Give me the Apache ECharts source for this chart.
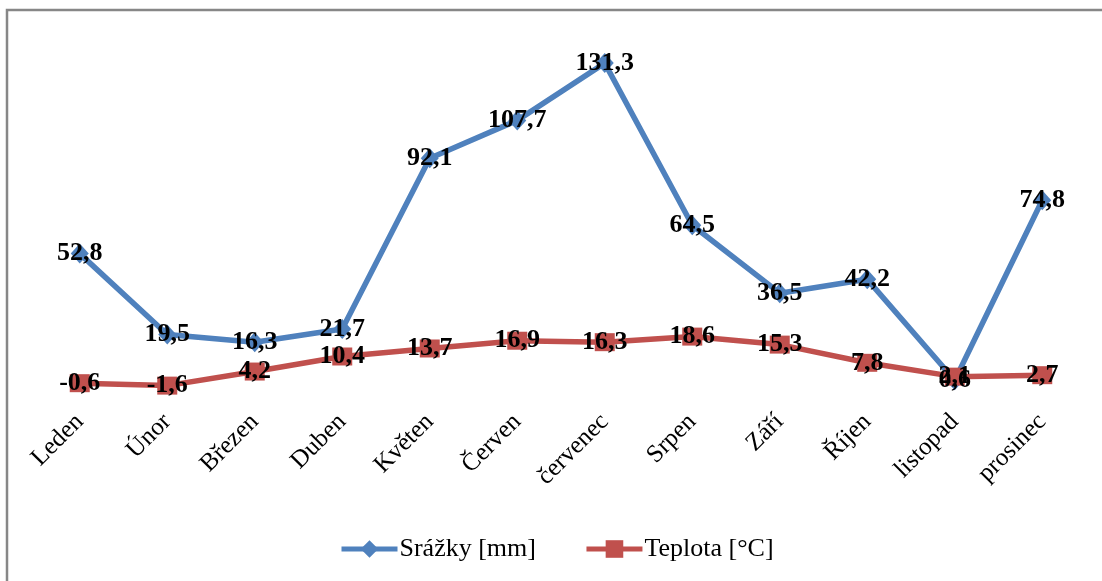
<!DOCTYPE html>
<html>
<head>
<meta charset="utf-8">
<script src="https://cdn.jsdelivr.net/npm/echarts@6/dist/echarts.min.js"></script>
<style>
  html, body { margin: 0; padding: 0; background: #fff; }
  #chart { width: 1102px; height: 581px; }
</style>
</head>
<body>
<div id="chart"></div>
<script>
// Monthly precipitation and mean temperature
const months = ['Leden', 'Únor', 'Březen', 'Duben', 'Květen', 'Červen',
  'červenec', 'Srpen', 'Září', 'Říjen', 'listopad', 'prosinec'];
const srazky = [52.8, 19.5, 16.3, 21.7, 92.1, 107.7, 131.3, 64.5, 36.5, 42.2, 0.6, 74.8];
const teplota = [-0.6, -1.6, 4.2, 10.4, 13.7, 16.9, 16.3, 18.6, 15.3, 7.8, 2.1, 2.7];

const serif = "'Liberation Serif', 'Times New Roman', serif";
const fmt = p => String(p.value).replace('.', ',');

const chart = echarts.init(document.getElementById('chart'));
chart.setOption({
  animation: false,
  backgroundColor: '#fff',
  graphic: [{
    type: 'rect',
    shape: { x: 7, y: 10, width: 1120, height: 600 },
    style: { fill: 'none', stroke: '#878787', lineWidth: 2.5 },
    silent: true
  }],
  grid: { left: 36, right: 16, top: 42, bottom: 175 },
  legend: {
    left: 334,
    top: 531,
    itemWidth: 56,
    itemHeight: 22,
    itemGap: 48,
    textStyle: { fontFamily: serif, fontSize: 26, color: '#000', padding: [0, 0, 0, -3] },
    data: [
      { name: 'Srážky [mm]', lineStyle: { width: 5 } },
      { name: 'Teplota [°C]', lineStyle: { width: 5 } }
    ]
  },
  xAxis: {
    type: 'category',
    data: months,
    axisLine: { show: false },
    axisTick: { show: false },
    axisLabel: { rotate: 45, margin: 12, fontFamily: serif, fontSize: 25, color: '#000' }
  },
  yAxis: {
    type: 'value',
    min: -10,
    max: 140,
    show: false,
    splitLine: { show: false }
  },
  series: [
    {
      name: 'Srážky [mm]',
      type: 'line',
      data: srazky,
      symbol: 'diamond',
      symbolSize: [18, 20],
      color: '#4F81BD',
      lineStyle: { width: 5.5, color: '#4F81BD' },
      itemStyle: { color: '#4F81BD' },
      label: {
        show: true, position: 'inside', formatter: fmt,
        fontFamily: serif, fontSize: 26, fontWeight: 'bold', color: '#000'
      }
    },
    {
      name: 'Teplota [°C]',
      type: 'line',
      data: teplota,
      symbol: 'rect',
      symbolSize: [20, 18],
      color: '#C0504D',
      lineStyle: { width: 5.5, color: '#C0504D' },
      itemStyle: { color: '#C0504D' },
      label: {
        show: true, position: 'inside', formatter: fmt,
        fontFamily: serif, fontSize: 26, fontWeight: 'bold', color: '#000'
      }
    }
  ]
});
</script>
</body>
</html>
